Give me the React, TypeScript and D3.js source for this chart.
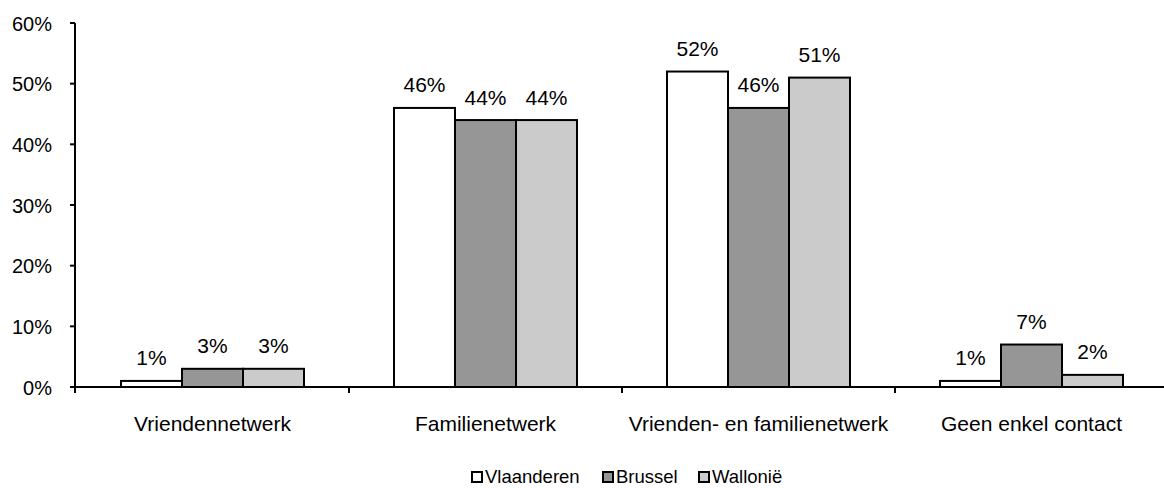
import React from "react";
import * as d3 from "d3";

const categories = ["Vriendennetwerk", "Familienetwerk", "Vrienden- en familienetwerk", "Geen enkel contact"];
const seriesNames = ["Vlaanderen", "Brussel", "Wallonië"];
const vlaanderen = [1, 46, 52, 1];
const brussel = [3, 44, 46, 7];
const wallonie = [3, 44, 51, 2];
const yTicks = [0, 10, 20, 30, 40, 50, 60];
const colors = ["#ffffff", "#969696", "#cbcbcb"];

export default function App() {
  const W = 1164, H = 488;
  const x0 = 76, bandW = 273;
  const x = d3.scaleBand<string>().domain(categories).range([x0, x0 + bandW * 4]).paddingInner(0).paddingOuter(0);
  const y = d3.scaleLinear().domain([0, 60]).range([387, 23]);
  const barW = 61;
  const series = [vlaanderen, brussel, wallonie];
  const font = "Arial, 'Liberation Sans', sans-serif";
  const legendX = [471, 602, 698];
  return (
    <svg width={W} height={H} style={{ position: "absolute", left: 0, top: 0 }} fontFamily={font}>
      {categories.map((c, ci) => {
        const cx = (x(c) as number) + bandW / 2;
        const start = cx - (barW * 3) / 2;
        return series.map((s, si) => (
          <g key={c + si}>
            <rect x={start + si * barW} y={y(s[ci])} width={barW} height={y(0) - y(s[ci])} fill={colors[si]} stroke="#000" strokeWidth={2} />
            <text x={start + si * barW + barW / 2} y={y(s[ci]) - 15.5} textAnchor="middle" fontSize={21}>{s[ci]}%</text>
          </g>
        ));
      })}
      <line x1={x0 - 1} x2={W} y1={y(0)} y2={y(0)} stroke="#000" strokeWidth={2} />
      <line x1={x0 - 1} x2={x0 - 1} y1={y(60)} y2={y(0) + 6} stroke="#000" strokeWidth={2} />
      {yTicks.map(t => (
        <g key={t}>
          <line x1={x0 - 6} x2={x0 - 1} y1={y(t)} y2={y(t)} stroke="#000" strokeWidth={2} />
          <text x={52} y={y(t) + 7.5} textAnchor="end" fontSize={20}>{t}%</text>
        </g>
      ))}
      {categories.map((c, ci) => (
        <g key={c}>
          {ci > 0 && <line x1={x(c) as number} x2={x(c) as number} y1={y(0)} y2={y(0) + 6} stroke="#000" strokeWidth={2} />}
          <text x={(x(c) as number) + bandW / 2} y={431} textAnchor="middle" fontSize={21}>{c}</text>
        </g>
      ))}
      {seriesNames.map((n, i) => (
        <g key={n}>
          <rect x={legendX[i] + 1} y={472} width={10} height={10} fill={colors[i]} stroke="#000" strokeWidth={2} />
          <text x={legendX[i] + 14} y={483} fontSize={18.5}>{n}</text>
        </g>
      ))}
    </svg>
  );
}
